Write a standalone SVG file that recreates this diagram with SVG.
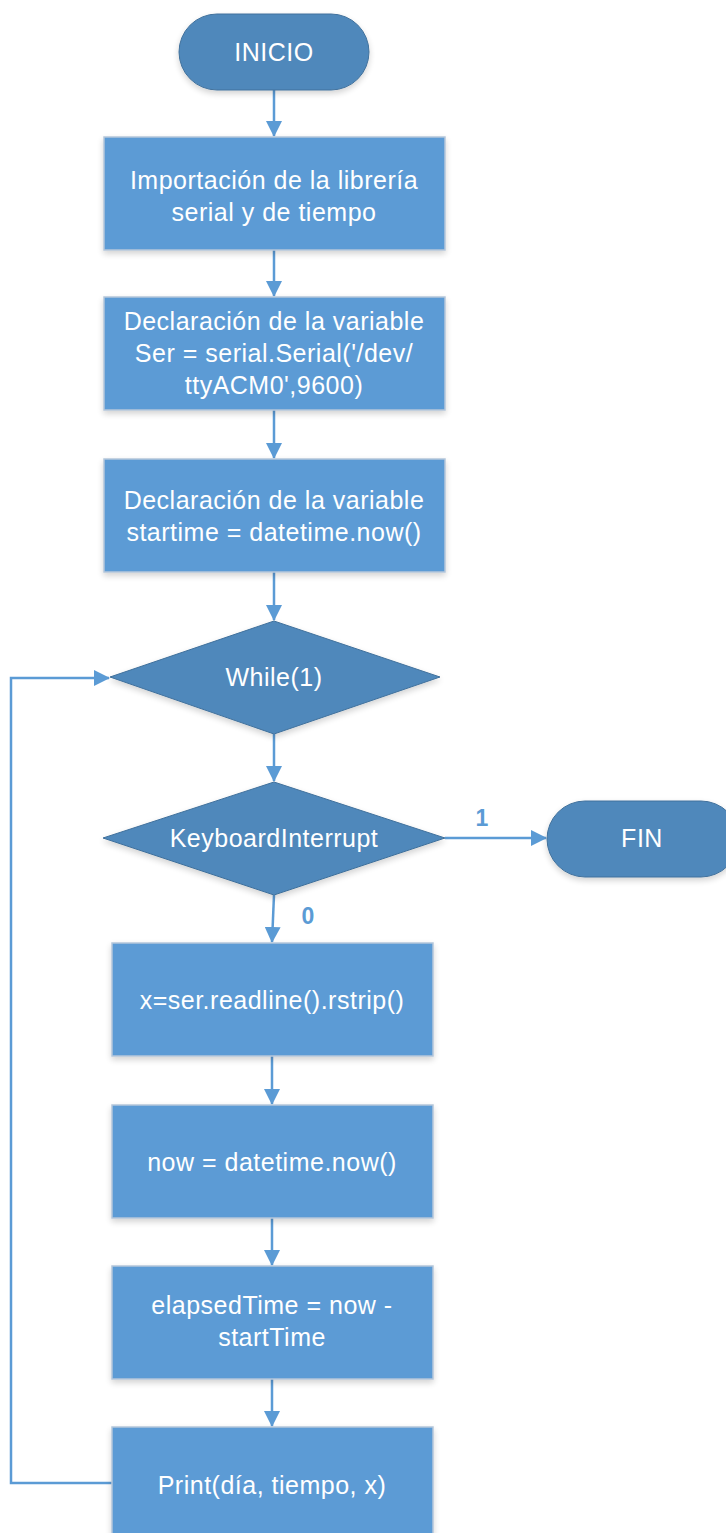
<svg xmlns="http://www.w3.org/2000/svg" width="726" height="1533" viewBox="0 0 726 1533">
<defs>
<marker id="arr" markerWidth="16" markerHeight="16" refX="15" refY="8" orient="auto" markerUnits="userSpaceOnUse" viewBox="0 0 16 16">
<path d="M0,0 L16,8 L0,16 z" fill="#5B9BD5"/>
</marker>
<filter id="sh" x="-10%" y="-10%" width="120%" height="130%">
<feGaussianBlur in="SourceAlpha" stdDeviation="3"/>
<feOffset dx="0" dy="3"/>
<feComponentTransfer><feFuncA type="linear" slope="0.18"/></feComponentTransfer>
<feMerge><feMergeNode/><feMergeNode in="SourceGraphic"/></feMerge>
</filter>
</defs>
<style>
.box{fill:#5B9BD5;stroke:#B4C6DA;stroke-width:1.5;filter:url(#sh)}
.dk{fill:#4F88BB;stroke:#41719C;stroke-width:1;filter:url(#sh)}
.t{font-family:"Liberation Sans",Arial,sans-serif;font-size:25px;letter-spacing:0.5px;fill:#FFFFFF;text-anchor:middle}
.c{fill:none;stroke:#5B9BD5;stroke-width:2.5}
.lbl{font-family:"Liberation Sans",Arial,sans-serif;font-size:23px;font-weight:bold;fill:#5B9BD5;text-anchor:middle}
</style>
<rect width="726" height="1533" fill="#FFFFFF"/>
<g id="connectors">
<line class="c" x1="274" y1="90" x2="274" y2="136" marker-end="url(#arr)"/>
<line class="c" x1="274" y1="250" x2="274" y2="296" marker-end="url(#arr)"/>
<line class="c" x1="274" y1="410" x2="274" y2="458" marker-end="url(#arr)"/>
<line class="c" x1="274" y1="572" x2="274" y2="620" marker-end="url(#arr)"/>
<line class="c" x1="274" y1="734" x2="274" y2="781" marker-end="url(#arr)"/>
<line class="c" x1="445" y1="838" x2="546" y2="838" marker-end="url(#arr)"/>
<line class="c" x1="274" y1="895" x2="272" y2="942" marker-end="url(#arr)"/>
<line class="c" x1="272" y1="1056" x2="272" y2="1104" marker-end="url(#arr)"/>
<line class="c" x1="272" y1="1218" x2="272" y2="1265" marker-end="url(#arr)"/>
<line class="c" x1="272" y1="1379" x2="272" y2="1426" marker-end="url(#arr)"/>
<polyline class="c" points="112,1483 11,1483 11,678 109,678" marker-end="url(#arr)"/>
<text class="lbl" x="482" y="826">1</text>
<text class="lbl" x="308" y="924">0</text>
</g>
<g id="inicio">
<rect class="dk" x="179" y="14" width="190" height="76" rx="38" ry="38"/>
<text class="t" x="274" y="61">INICIO</text>
</g>
<g id="importacion">
<rect class="box" x="104" y="137" width="341" height="113"/>
<text class="t" x="274" y="189">Importación de la librería</text>
<text class="t" x="274" y="221">serial y de tiempo</text>
</g>
<g id="declaracion-ser">
<rect class="box" x="104" y="297" width="341" height="113"/>
<text class="t" x="274" y="330">Declaración de la variable</text>
<text class="t" x="274" y="362">Ser = serial.Serial('/dev/</text>
<text class="t" x="274" y="394">ttyACM0',9600)</text>
</g>
<g id="declaracion-startime">
<rect class="box" x="104" y="459" width="341" height="113"/>
<text class="t" x="274" y="509">Declaración de la variable</text>
<text class="t" x="274" y="541">startime = datetime.now()</text>
</g>
<g id="while">
<polygon class="dk" points="274,621 440,677 274,734 110,677"/>
<text class="t" x="274" y="686">While(1)</text>
</g>
<g id="keyboard">
<polygon class="dk" points="274,782 445,838 274,895 103,838"/>
<text class="t" x="274" y="847">KeyboardInterrupt</text>
</g>
<g id="fin">
<rect class="dk" x="547" y="801" width="192" height="76" rx="38" ry="38"/>
<text class="t" x="642" y="847">FIN</text>
</g>
<g id="readline">
<rect class="box" x="112" y="943" width="321" height="113"/>
<text class="t" x="272" y="1009">x=ser.readline().rstrip()</text>
</g>
<g id="now">
<rect class="box" x="112" y="1105" width="321" height="113"/>
<text class="t" x="272" y="1171">now = datetime.now()</text>
</g>
<g id="elapsed">
<rect class="box" x="112" y="1266" width="321" height="113"/>
<text class="t" x="272" y="1314">elapsedTime = now -</text>
<text class="t" x="272" y="1346">startTime</text>
</g>
<g id="print">
<rect class="box" x="112" y="1427" width="321" height="120"/>
<text class="t" x="272" y="1494">Print(día, tiempo, x)</text>
</g>
</svg>
